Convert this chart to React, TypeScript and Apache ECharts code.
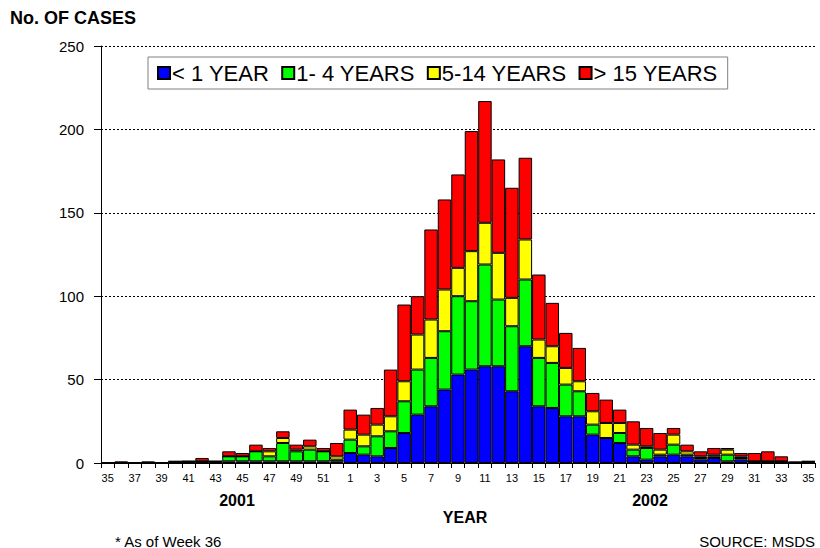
import React, { useEffect, useRef } from "react";
import * as echarts from "echarts";

const weeks: string[] = [
  "35", "36", "37", "38", "39", "40", "41", "42", "43", "44", "45", "46", "47", "48", "49", "50", "51", "52",
  "1", "2", "3", "4", "5", "6", "7", "8", "9", "10", "11", "12", "13", "14", "15", "16", "17", "18",
  "19", "20", "21", "22", "23", "24", "25", "26", "27", "28", "29", "30", "31", "32", "33", "34", "35",
];

const seriesNames: string[] = ["< 1 YEAR", "1- 4 YEARS", "5-14 YEARS", "> 15 YEARS"];
const seriesColors: string[] = ["#0000FF", "#00FF00", "#FFFF00", "#FF0000"];

const under1: number[] = [
  0, 0, 0, 0, 0, 0, 0, 0, 0, 1, 1, 1, 1, 1, 1, 1, 1, 1,
  6, 5, 4, 9, 18, 29, 34, 44, 53, 56, 58, 58, 43, 70, 34, 33, 28, 28,
  17, 15, 12, 4, 2, 4, 5, 4, 2, 3, 1, 2, 1, 0, 0, 0, 0,
];
const age1to4: number[] = [
  0, 0, 0, 0, 0, 0, 1, 1, 1, 3, 3, 6, 3, 11, 6, 7, 6, 1,
  8, 5, 12, 10, 19, 27, 29, 35, 47, 41, 61, 40, 39, 40, 29, 27, 19, 15,
  6, 0, 6, 4, 7, 1, 6, 1, 1, 1, 4, 1, 0, 1, 1, 0, 0,
];
const age5to14: number[] = [
  0, 0, 0, 0, 0, 1, 0, 0, 0, 0, 0, 0, 3, 3, 1, 2, 0, 2,
  6, 7, 7, 9, 12, 21, 23, 25, 17, 30, 25, 28, 17, 24, 11, 10, 10, 6,
  8, 9, 6, 3, 1, 3, 6, 2, 1, 1, 3, 1, 0, 0, 0, 0, 1,
];
const over15: number[] = [
  0, 1, 0, 1, 0, 0, 0, 2, 0, 3, 2, 4, 2, 4, 3, 4, 2, 8,
  12, 12, 10, 28, 46, 23, 54, 54, 56, 72, 73, 56, 66, 49, 39, 26, 21, 20,
  11, 14, 8, 14, 11, 10, 4, 4, 3, 4, 1, 2, 5, 6, 3, 1, 0,
];

const yTicks = { min: 0, max: 250, interval: 50 };

const FONT = "Arial, 'Liberation Sans', Helvetica, sans-serif";

export default function App() {
  const ref = useRef<HTMLDivElement>(null);

  useEffect(() => {
    document.body.style.margin = "0";
    if (!ref.current) return;
    const chart = echarts.init(ref.current, undefined, { renderer: "svg" });
    const values = [under1, age1to4, age5to14, over15];
    const option: any = {
      animation: false,
      backgroundColor: "#ffffff",
      textStyle: { fontFamily: FONT, color: "#000" },
      title: {
        text: "No. OF CASES",
        left: 10,
        top: 9,
        padding: 0,
        textStyle: { fontFamily: FONT, fontSize: 18, fontWeight: "bold", color: "#000" },
      },
      legend: {
        left: 148,
        top: 57,
        padding: [5, 10, 5, 9],
        itemGap: 12,
        itemWidth: 12,
        itemHeight: 12,
        borderColor: "#808080",
        borderWidth: 1,
        backgroundColor: "#fff",
        icon: "rect",
        selectedMode: false,
        textStyle: { fontFamily: FONT, fontSize: 22, color: "#000", padding: [0, 0, 0, -3] },
        data: seriesNames,
      },
      grid: { left: 101, right: 5, top: 46, bottom: 85, containLabel: false },
      xAxis: {
        type: "category",
        data: weeks,
        boundaryGap: true,
        axisLine: { lineStyle: { color: "#000", width: 1 } },
        axisTick: { show: true, interval: 0, length: 5, lineStyle: { color: "#000" } },
        axisLabel: { interval: 1, fontSize: 11, color: "#000", margin: 9, fontFamily: FONT },
      },
      yAxis: {
        type: "value",
        min: yTicks.min,
        max: yTicks.max,
        interval: yTicks.interval,
        axisLine: { show: true, lineStyle: { color: "#000", width: 1 } },
        axisTick: { show: true, length: 7, lineStyle: { color: "#000" } },
        axisLabel: { fontSize: 15, color: "#000", margin: 17, fontFamily: FONT },
        splitLine: { show: true, lineStyle: { color: "#000", width: 1, type: [2, 2] } },
      },
      graphic: [
        { type: "text", x: 237, y: 500, style: { text: "2001", align: "center", verticalAlign: "middle", fontFamily: FONT, fontSize: 16, fontWeight: "bold", fill: "#000" } },
        { type: "text", x: 650, y: 500, style: { text: "2002", align: "center", verticalAlign: "middle", fontFamily: FONT, fontSize: 16, fontWeight: "bold", fill: "#000" } },
        { type: "text", x: 465, y: 517, style: { text: "YEAR", align: "center", verticalAlign: "middle", fontFamily: FONT, fontSize: 16, fontWeight: "bold", fill: "#000" } },
        { type: "text", x: 115, y: 541, style: { text: "* As of Week 36", align: "left", verticalAlign: "middle", fontFamily: FONT, fontSize: 15, fill: "#000" } },
        { type: "text", x: 815, y: 541, style: { text: "SOURCE: MSDS", align: "right", verticalAlign: "middle", fontFamily: FONT, fontSize: 15, fill: "#000" } },
      ],
      series: seriesNames.map((name, i) => ({
        name,
        type: "bar",
        stack: "cases",
        data: values[i],
        barCategoryGap: "0%",
        itemStyle: { color: seriesColors[i], borderColor: "#000", borderWidth: 1 },
        emphasis: { disabled: true },
      })),
    };
    chart.setOption(option);
    return () => chart.dispose();
  }, []);

  return <div ref={ref} style={{ width: 820, height: 548 }} />;
}
